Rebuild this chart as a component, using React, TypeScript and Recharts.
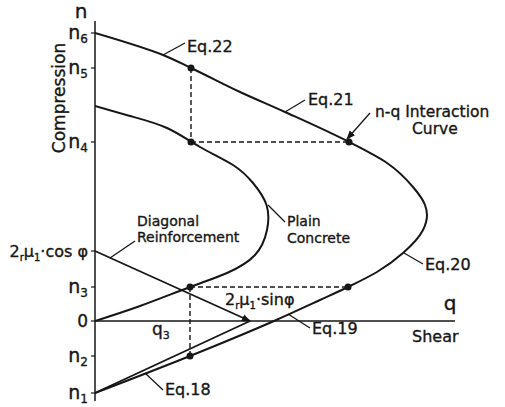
import { LineChart, Line, XAxis, YAxis, ReferenceLine, ReferenceDot } from "recharts";

const INK = "#161616";
const FONT = "'DejaVu Sans', sans-serif";

// q = shear, n = compression in arbitrary units
const outerQ = [0, 9.5, 17.9, 22.5, 25.3, 28.2, 30.8, 32.8, 33.2, 33.0, 31.8, 29.2, 25.4, 19.0, 14.5, 9.6, 6.8, 0];
const outerN = [-7.2, -3.5, 0, 2.1, 3.4, 4.9, 6.8, 9.1, 10.6, 11.6, 13.4, 15.8, 17.9, 20.9, 22.9, 25.3, 26.6, 28.8];

const plainQ = [0, 4.5, 9.5, 13.2, 16.0, 17.2, 17.15, 15.8, 13.8, 10.5, 7.2, 3.5, 0];
const plainN = [0, 1.5, 3.4, 4.8, 6.6, 9.1, 11.6, 13.8, 15.6, 17.4, 19.3, 20.5, 21.5];

const diagonalQ = [0, 15.5];
const diagonalN = [7.0, 0];
const eq18Q = [0, 15.5];
const eq18N = [-7.2, 0];

// marked points
const markQ = [9.6, 9.6, 25.4, 9.5, 25.3, 9.5];
const markN = [25.3, 17.9, 17.9, 3.4, 3.4, -3.5];

// dashed construction lines [q1, n1, q2, n2]
const dashed = [
  [9.6, 25.3, 9.6, 17.9],
  [9.6, 17.9, 25.4, 17.9],
  [9.5, 3.4, 25.3, 3.4],
  [9.5, 3.4, 9.5, -3.5],
];

// leader lines [q1, n1, q2, n2]
const leaders = [
  [6.8, 26.6, 9.0, 27.8],
  [19.0, 20.9, 21.0, 22.1],
  [17.3, 11.6, 19.0, 9.9],
  [30.9, 6.8, 32.8, 5.7],
  [19.3, 0.7, 21.5, -0.7],
  [1.5, 6.3, 4.0, 8.0],
  [5.0, -5.2, 6.8, -6.9],
];

type Seg = { t: string; sub?: boolean };

const yTicks = [-7.2, -3.5, 0, 3.4, 7.0, 17.9, 25.3, 28.8];
const yTickLabels: Seg[][] = [
  [{ t: "n" }, { t: "1", sub: true }],
  [{ t: "n" }, { t: "2", sub: true }],
  [{ t: "0" }],
  [{ t: "n" }, { t: "3", sub: true }],
  [{ t: "2" }, { t: "r", sub: true }, { t: "μ" }, { t: "1", sub: true }, { t: "·cos φ" }],
  [{ t: "n" }, { t: "4", sub: true }],
  [{ t: "n" }, { t: "5", sub: true }],
  [{ t: "n" }, { t: "6", sub: true }],
];

type Note = { q: number; n: number; rows: Seg[][]; size: number; anchor?: string; rotate?: boolean };
const notes: Note[] = [
  { q: -1.4, n: 30.3, rows: [[{ t: "n" }]], size: 20, anchor: "middle" },
  { q: -3.0, n: 22.3, rows: [[{ t: "Compression" }]], size: 17, anchor: "middle", rotate: true },
  { q: 9.2, n: 26.9, rows: [[{ t: "Eq.22" }]], size: 16 },
  { q: 21.3, n: 21.6, rows: [[{ t: "Eq.21" }]], size: 16 },
  { q: 28.0, n: 20.4, rows: [[{ t: "n-q Interaction" }]], size: 15.5 },
  { q: 31.7, n: 18.7, rows: [[{ t: "Curve" }]], size: 15.5 },
  { q: 19.2, n: 9.5, rows: [[{ t: "Plain" }]], size: 14 },
  { q: 19.2, n: 7.8, rows: [[{ t: "Concrete" }]], size: 14 },
  { q: 33.0, n: 5.1, rows: [[{ t: "Eq.20" }]], size: 16 },
  { q: 21.7, n: -1.3, rows: [[{ t: "Eq.19" }]], size: 16 },
  { q: 35.5, n: 1.1, rows: [[{ t: "q" }]], size: 20, anchor: "middle" },
  { q: 31.7, n: -2.1, rows: [[{ t: "Shear" }]], size: 16 },
  { q: 13.0, n: 1.6, rows: [[{ t: "2" }, { t: "r", sub: true }, { t: "μ" }, { t: "1", sub: true }, { t: "·sinφ" }]], size: 16 },
  { q: 5.7, n: -1.4, rows: [[{ t: "q" }, { t: "3", sub: true }]], size: 17 },
  { q: 4.2, n: 9.5, rows: [[{ t: "Diagonal" }]], size: 14 },
  { q: 4.2, n: 7.9, rows: [[{ t: "Reinforcement" }]], size: 14 },
  { q: 7.0, n: -7.4, rows: [[{ t: "Eq.18" }]], size: 16 },
];

const zip = (qs: number[], ns: number[]) => qs.map((q, i) => ({ q, n: ns[i] }));

// rows of segments -> tspans, subscripts shifted down, each row restarting at x
function rowSpans(rows: Seg[][], size: number, x: number, lead: number) {
  const subSize = Math.round(size * 0.65);
  let shift = 0;
  const out: any[] = [];
  rows.forEach((segs, r) => {
    segs.forEach((s, i) => {
      const target = s.sub ? 4 : 0;
      let dy = target - shift;
      if (r > 0 && i === 0) dy += lead;
      shift = target;
      out.push(
        <tspan key={`${r}-${i}`} x={i === 0 ? x : undefined} dy={dy} fontSize={s.sub ? subSize : size}>
          {s.t}
        </tspan>
      );
    });
  });
  return out;
}

function YTick(props: any) {
  const { x, y, index } = props;
  const segs = yTickLabels[index] || [];
  const size = segs[0]?.t === "n" ? 19 : segs.length > 2 ? 16 : 17;
  return (
    <text x={x} y={y + 6} textAnchor="end" fill={INK} stroke={INK} strokeWidth={0.35} fontFamily={FONT}>
      {rowSpans([segs], size, x, 0)}
    </text>
  );
}

function noteShape(note: Note) {
  return (p: any) => {
    const x = p.cx;
    const y = p.cy;
    return (
      <text
        x={x}
        y={y}
        transform={note.rotate ? `rotate(-90 ${x} ${y})` : undefined}
        textAnchor={note.anchor || "start"}
        fill={INK}
        stroke={INK}
        strokeWidth={0.35}
        fontFamily={FONT}
      >
        {rowSpans(note.rows, note.size, x, note.size)}
      </text>
    );
  };
}

export default function App() {
  return (
    <div style={{ position: "absolute", left: 0, top: 0, background: "#fff" }}>
      <LineChart width={505} height={407} margin={{ top: 21, right: 50, bottom: 6, left: 0 }}>
        <defs>
          <marker id="arrowHead" viewBox="0 0 10 10" refX="9" refY="5" markerWidth="9" markerHeight="9" markerUnits="userSpaceOnUse" orient="auto">
            <path d="M0,1 L10,5 L0,9 z" fill={INK} />
          </marker>
        </defs>
        <XAxis type="number" dataKey="q" domain={[0, 36]} allowDataOverflow hide />
        <YAxis
          type="number"
          dataKey="n"
          domain={[-8, 30]}
          allowDataOverflow
          ticks={yTicks}
          interval={0}
          width={95}
          tickSize={4}
          tickMargin={3}
          tick={<YTick />}
          tickLine={{ stroke: INK, strokeWidth: 1.2 }}
          axisLine={{ stroke: INK, strokeWidth: 1.5 }}
        />
        <ReferenceLine segment={[{ x: 0, y: 0 }, { x: 36, y: 0 }]} stroke={INK} strokeWidth={1.4} />

        {dashed.map((d, i) => (
          <ReferenceLine key={`d${i}`} segment={[{ x: d[0], y: d[1] }, { x: d[2], y: d[3] }]} stroke={INK} strokeWidth={1.4} strokeDasharray="5 3" />
        ))}
        {leaders.map((d, i) => (
          <ReferenceLine key={`l${i}`} segment={[{ x: d[0], y: d[1] }, { x: d[2], y: d[3] }]} stroke={INK} strokeWidth={1.3} />
        ))}
        <ReferenceLine segment={[{ x: 27.5, y: 20.8 }, { x: 25.2, y: 18.2 }]} stroke={INK} strokeWidth={1.3} markerEnd="url(#arrowHead)" />
        <ReferenceLine
          segment={[{ x: diagonalQ[0], y: diagonalN[0] }, { x: diagonalQ[1], y: diagonalN[1] }]}
          stroke={INK}
          strokeWidth={1.8}
          markerEnd="url(#arrowHead)"
        />

        <Line data={zip(eq18Q, eq18N)} dataKey="n" type="linear" stroke={INK} strokeWidth={1.8} dot={false} activeDot={false} isAnimationActive={false} />
        <Line data={zip(outerQ, outerN)} dataKey="n" type="monotoneY" stroke={INK} strokeWidth={2} dot={false} activeDot={false} isAnimationActive={false} />
        <Line data={zip(plainQ, plainN)} dataKey="n" type="natural" stroke={INK} strokeWidth={2} dot={false} activeDot={false} isAnimationActive={false} />

        {markQ.map((q, i) => (
          <ReferenceDot key={`m${i}`} x={q} y={markN[i]} r={3.5} fill={INK} stroke={INK} strokeWidth={0} />
        ))}
        {notes.map((note, i) => (
          <ReferenceDot key={`t${i}`} x={note.q} y={note.n} r={0} ifOverflow="visible" shape={noteShape(note)} />
        ))}
      </LineChart>
    </div>
  );
}
